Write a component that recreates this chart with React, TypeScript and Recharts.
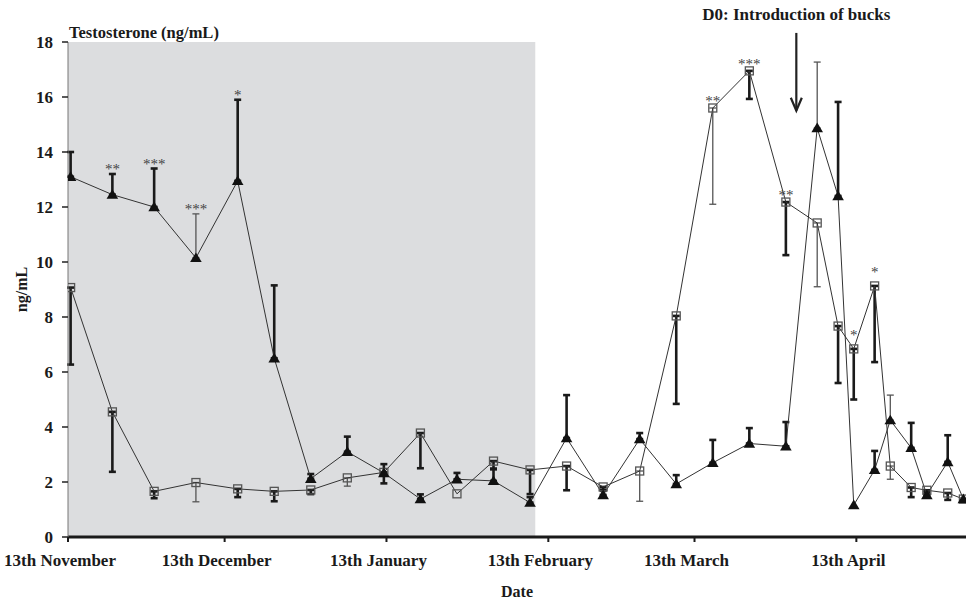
import {
	ComposedChart,
	ErrorBar,
	LabelList,
	Line,
	ReferenceArea,
	ReferenceLine,
	XAxis,
	YAxis,
} from "recharts";

// days after 13th November when samples were taken
const sampleDays = [
	0, 8, 16, 24, 32, 39, 46, 53, 60, 67, 74, 81, 88, 95, 102, 109, 116, 123, 130, 137, 143, 147,
	150, 154, 157, 161, 164, 168, 171,
];

// filled triangles (mean, upper SEM)
const triangleValues = [
	13.1, 12.45, 12.0, 10.15, 12.95, 6.5, 2.12, 3.1, 2.33, 1.38, 2.1, 2.04, 1.25, 3.6, 1.53, 3.56,
	1.93, 2.7, 3.4, 3.3, 14.87, 12.4, 1.16, 2.44, 4.25, 3.24, 1.53, 2.73, 1.38,
];
const triangleSem = [
	0.9, 0.75, 1.4, 1.6, 2.95, 2.65, 0.17, 0.55, 0.32, 0.17, 0.23, 0.45, 0.2, 1.56, 0.15, 0.22, 0.32,
	0.83, 0.56, 0.88, 2.4, 3.42, 0, 0.69, 0.91, 0.91, 0.1, 0.97, 0,
];
const triangleStars = [
	"", "**", "***", "***", "*", "", "", "", "", "", "", "", "", "", "", "", "", "", "", "", "", "",
	"", "", "", "", "", "", "",
];

// open squares (mean, lower SEM)
const squareValues = [
	9.07, 4.55, 1.66, 1.98, 1.75, 1.66, 1.71, 2.15, 2.35, 3.78, 1.57, 2.76, 2.44, 2.58, 1.82, 2.4,
	8.04, 15.6, 16.95, 12.18, 11.42, 7.67, 6.84, 9.13, 2.58, 1.8, 1.7, 1.6, 1.38,
];
const squareSem = [
	2.8, 2.18, 0.25, 0.7, 0.3, 0.36, 0.15, 0.3, 0.4, 1.28, 0, 0.3, 0.88, 0.88, 0.1, 1.1, 3.2, 3.5,
	1.02, 1.93, 2.32, 2.07, 1.84, 2.77, 0.48, 0.35, 0.15, 0.25, 0,
];
const squareStars = [
	"", "", "", "", "", "", "", "", "", "", "", "", "", "", "", "", "", "**", "***", "**", "", "",
	"*", "*", "",
	"", "", "", "",
];

const tickDays = [0, 30, 61, 92, 120, 151];
const tickLabels = [
	"13th November",
	"13th December",
	"13th January",
	"13th February",
	"13th March",
	"13th April",
];
const yTicks = [0, 2, 4, 6, 8, 10, 12, 14, 16, 18];

const shadedUntil = 89.5; // grey period
const bucksDay = 139.5; // D0

// error bars drawn with a thin pen in the original
const thinTriangleBars = [3, 20, 24];
const thinSquareBars = [3, 7, 15, 17, 20, 24];

const serif = "'Liberation Serif', 'Times New Roman', serif";

const data = sampleDays.map((d, i) => {
	const tErr = triangleSem[i] > 0 ? [0, triangleSem[i]] : null;
	const sErr = squareSem[i] > 0 ? [squareSem[i], 0] : null;
	const tThin = thinTriangleBars.includes(i);
	const sThin = thinSquareBars.includes(i);
	const star = squareStars[i];
	return {
		// plotted at midday
		day: d + 0.5,
		tri: triangleValues[i],
		sq: squareValues[i],
		triErrBold: tThin ? null : tErr,
		triErrThin: tThin ? tErr : null,
		sqErrBold: sThin ? null : sErr,
		sqErrThin: sThin ? sErr : null,
		triTop: triangleValues[i] + triangleSem[i],
		triStar: triangleStars[i] || undefined,
		// single asterisks sit a little higher above the squares
		sqStar: star && star.length > 1 ? star : undefined,
		sqStarHigh: star === "*" ? star : undefined,
	};
});

const TriangleDot = (props: any) => {
	const { cx, cy, index } = props;
	if (cx == null || cy == null) return null;
	return (
		<path
			key={`t${index}`}
			d={`M${cx},${cy - 5.5} L${cx + 5.8},${cy + 4.2} L${cx - 5.8},${cy + 4.2} Z`}
			fill="#111"
		/>
	);
};

const SquareDot = (props: any) => {
	const { cx, cy, index } = props;
	if (cx == null || cy == null) return null;
	return (
		<rect
			key={`s${index}`}
			x={cx - 4}
			y={cy - 4}
			width={8}
			height={8}
			fill="none"
			stroke="#555"
			strokeWidth={1.3}
		/>
	);
};

const Arrow = (props: any) => {
	const { x1, y1, x2, y2 } = props;
	return (
		<g>
			<text
				x={x1}
				y={y1 - 13}
				textAnchor="middle"
				fontFamily={serif}
				fontWeight="bold"
				fontSize={17}
				fill="#1a1a1a"
			>
				D0: Introduction of bucks
			</text>
			<line x1={x1} y1={y1} x2={x2} y2={y2} stroke="#222" strokeWidth={2.2} />
			<polyline
				points={`${x2 - 5.5},${y2 - 13} ${x2},${y2} ${x2 + 5.5},${y2 - 13}`}
				fill="none"
				stroke="#222"
				strokeWidth={2.2}
			/>
		</g>
	);
};

const starStyle = { fill: "#444", fontSize: 15, fontFamily: serif };

export default function App() {
	return (
		<div style={{ position: "absolute", left: 0, top: 0, width: 966, height: 602 }}>
			<ComposedChart
				width={966}
				height={602}
				data={data}
				margin={{ top: 42, right: 0, left: 0, bottom: 0 }}
			>
				<ReferenceArea
					x1={0}
					x2={shadedUntil}
					y1={0}
					y2={18}
					fill="#dcdddf"
					fillOpacity={1}
					stroke="none"
				/>
				<XAxis
					type="number"
					dataKey="day"
					domain={[0, 172]}
					ticks={tickDays}
					interval={0}
					allowDataOverflow
					height={65}
					tickFormatter={(v) => tickLabels[tickDays.indexOf(v)] ?? ""}
					tick={{ fill: "#1a1a1a", fontSize: 17, fontWeight: "bold", fontFamily: serif, dx: -8 }}
					tickSize={5}
					tickMargin={12}
					axisLine={{ stroke: "#1a1a1a", strokeWidth: 3 }}
					tickLine={{ stroke: "#1a1a1a", strokeWidth: 2 }}
					label={{
						value: "Date",
						position: "center",
						dy: 22,
						fill: "#1a1a1a",
						fontSize: 16,
						fontWeight: "bold",
						fontFamily: serif,
					}}
				/>
				<YAxis
					type="number"
					domain={[0, 18]}
					ticks={yTicks}
					interval={0}
					allowDataOverflow
					width={68}
					tick={{ fill: "#1a1a1a", fontSize: 17, fontWeight: "bold", fontFamily: serif }}
					tickSize={6}
					tickMargin={9}
					axisLine={{ stroke: "#777", strokeWidth: 1 }}
					tickLine={{ stroke: "#222", strokeWidth: 1.5 }}
					label={{
						value: "ng/mL",
						angle: -90,
						position: "center",
						dx: -13,
						fill: "#1a1a1a",
						fontSize: 16,
						fontWeight: "bold",
						fontFamily: serif,
					}}
				/>
				<Line
					dataKey="sq"
					stroke="#333"
					strokeWidth={1}
					dot={SquareDot}
					activeDot={false}
					isAnimationActive={false}
				>
					<ErrorBar dataKey="sqErrBold" direction="y" width={3.5} stroke="#1a1a1a" strokeWidth={2.6} />
					<ErrorBar dataKey="sqErrThin" direction="y" width={3.5} stroke="#555" strokeWidth={1.3} />
					<LabelList dataKey="sqStar" position="top" offset={2} {...starStyle} />
					<LabelList dataKey="sqStarHigh" position="top" offset={9} {...starStyle} />
				</Line>
				<Line
					dataKey="tri"
					stroke="#333"
					strokeWidth={1}
					dot={TriangleDot}
					activeDot={false}
					isAnimationActive={false}
				>
					<ErrorBar dataKey="triErrBold" direction="y" width={3.5} stroke="#1a1a1a" strokeWidth={2.6} />
					<ErrorBar dataKey="triErrThin" direction="y" width={3.5} stroke="#555" strokeWidth={1.3} />
				</Line>
				<Line
					dataKey="triTop"
					stroke="none"
					dot={false}
					activeDot={false}
					isAnimationActive={false}
				>
					<LabelList dataKey="triStar" position="top" offset={0} {...starStyle} />
				</Line>
				<ReferenceLine
					segment={[
						{ x: bucksDay, y: 18.33 },
						{ x: bucksDay, y: 15.5 },
					]}
					ifOverflow="visible"
					shape={Arrow}
				/>
			</ComposedChart>
			<svg
				width={966}
				height={602}
				style={{ position: "absolute", left: 0, top: 0, pointerEvents: "none" }}
			>
				<text x={69} y={38} fontFamily={serif} fontWeight="bold" fontSize={16.5} fill="#1a1a1a">
					Testosterone (ng/mL)
				</text>
			</svg>
		</div>
	);
}
